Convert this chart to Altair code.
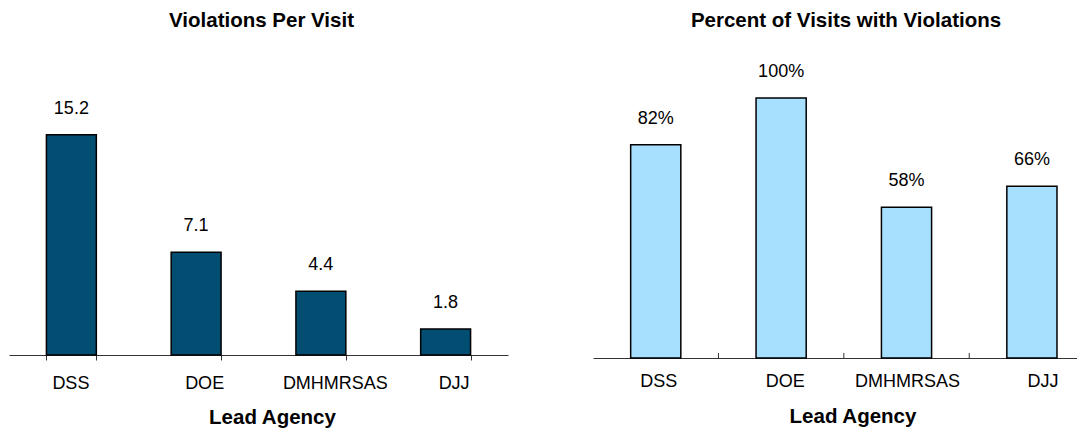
import altair as alt
import pandas as pd

# ---- data ----
agencies = ["DSS", "DOE", "DMHMRSAS", "DJJ"]
violations_per_visit = [15.2, 7.1, 4.4, 1.8]
percent_with_violations = [0.82, 1.00, 0.58, 0.66]

df_left = pd.DataFrame({"agency": agencies, "value": violations_per_visit})
df_right = pd.DataFrame({"agency": agencies, "value": percent_with_violations})

FONT = "Liberation Sans"
DARK = "#014E72"
LIGHT = "#A6E0FE"
AXIS_COLOR = "#333333"


def offsets(mapping, default):
    return {"condition": [{"test": f"datum.value === '{k}'", "value": v} for k, v in mapping.items()],
            "value": default}


# ---------------- left panel ----------------
left_scale = alt.Scale(domain=agencies, paddingInner=0.6, paddingOuter=0.3)
left_axis = alt.Axis(labelAngle=0, tickBand="extent", tickSize=5, labelPadding=14,
                     labelOffset=offsets({"DOE": 8, "DMHMRSAS": 14, "DJJ": 8}, -1),
                     titleY=62.5, titleX=263, titleBaseline="middle")
left_x = alt.X("agency:N", scale=left_scale, sort=agencies, title="Lead Agency", axis=left_axis)
left_y = alt.Y("value:Q", scale=alt.Scale(domain=[0, 20.3], nice=False, zero=True), axis=None)

left_bars = alt.Chart(df_left).mark_bar(color=DARK, stroke="black", strokeWidth=1.5).encode(
    x=left_x, y=left_y)
left_text = alt.Chart(df_left).mark_text(dy=-26, baseline="middle", fontSize=18, font=FONT,
                                         color="black").encode(
    x=left_x, y=left_y, text=alt.Text("value:Q", format=".1f"))

left = alt.layer(left_bars, left_text).properties(
    width=499, height=294,
    title=alt.TitleParams("Violations Per Visit", font=FONT, fontSize=20.5, fontWeight="bold",
                          color="black", offset=30, anchor="middle", dx=3))

# ---------------- right panel ----------------
right_scale = alt.Scale(domain=agencies, paddingInner=0.6, paddingOuter=0.23, align=0.653)
right_axis = alt.Axis(labelAngle=0, tickSize=0, labelPadding=14,
                      labelOffset=offsets({"DSS": 3, "DOE": 4, "DMHMRSAS": 1, "DJJ": 11}, 0),
                      titleY=58, titleX=259.5, titleBaseline="middle")
right_x = alt.X("agency:N", scale=right_scale, sort=agencies, title="Lead Agency", axis=right_axis)
right_x_edge = alt.X("agency:N", scale=right_scale, sort=agencies, title="Lead Agency",
                     axis=right_axis, bandPosition=0)
right_y = alt.Y("value:Q", scale=alt.Scale(domain=[0, 1.142], nice=False, zero=True), axis=None)

right_bars = alt.Chart(df_right).mark_bar(color=LIGHT, stroke="black", strokeWidth=1.5).encode(
    x=right_x, y=right_y)
right_text = alt.Chart(df_right).mark_text(dy=-26, baseline="middle", fontSize=18, font=FONT,
                                           color="black").encode(
    x=right_x, y=right_y, text=alt.Text("value:Q", format=".0%"))
# inward tick marks at the band boundaries (half the inner gap left of each bar)
right_ticks = alt.Chart(df_right).transform_filter("datum.agency != 'DSS'").mark_rule(
    color=AXIS_COLOR, strokeWidth=1, xOffset=-37.6).encode(
    x=right_x_edge, y=alt.value(292), y2=alt.value(297))

right = alt.layer(right_bars, right_text, right_ticks).properties(
    width=484, height=297,
    title=alt.TitleParams("Percent of Visits with Violations", font=FONT, fontSize=20.5,
                          fontWeight="bold", color="black", offset=30, anchor="middle", dx=11))

chart = alt.hconcat(left, right, spacing=85).properties(
    padding={"left": 1, "top": 2, "right": 0, "bottom": 0}
).configure_view(stroke=None).configure_axis(
    domainColor=AXIS_COLOR, tickColor=AXIS_COLOR, domainWidth=1, tickWidth=1,
    labelFont=FONT, labelFontSize=18, labelColor="black",
    titleFont=FONT, titleFontSize=20.5, titleFontWeight="bold", titleColor="black",
    grid=False
)

chart.save("out.html", embed_options={"renderer": "svg", "actions": False})
